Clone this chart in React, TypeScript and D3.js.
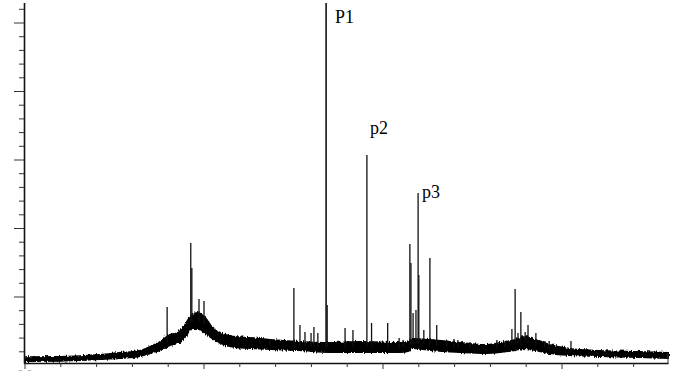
import React from 'react';
import * as d3 from 'd3';

// Baseline band (noise envelope) of the spectrum
const baseX = [0, 98, 209, 265, 321, 349, 377, 405, 427, 447, 466, 483, 503, 522, 545, 587, 628, 684, 768, 852, 936, 1047, 1070, 1081, 1131, 1215, 1285, 1327, 1369, 1397, 1424, 1466, 1522, 1606, 1718, 1796];
const baseHigh = [12.0, 12.4, 15.3, 18.3, 21.2, 27.0, 34.3, 44.5, 47.5, 59.1, 73.7, 76.7, 69.4, 56.2, 47.5, 41.6, 40.2, 37.2, 34.3, 32.9, 34.3, 32.9, 34.3, 38.7, 37.2, 32.9, 29.9, 32.9, 37.2, 41.6, 37.2, 29.9, 24.1, 21.2, 19.7, 18.3];
const baseLow = [6.6, 7.0, 9.5, 11.0, 13.9, 18.3, 22.6, 29.9, 32.9, 41.6, 54.8, 54.8, 47.5, 40.2, 32.9, 27.0, 25.6, 24.1, 22.6, 19.7, 19.7, 19.7, 21.2, 25.6, 22.6, 19.7, 18.3, 19.7, 22.6, 25.6, 22.6, 18.3, 15.3, 13.9, 12.4, 11.0];

// Sharp peaks (position, intensity)
const peakX = [397, 463, 466, 486, 500, 656, 684, 751, 768, 782, 799, 807, 818, 841, 844, 894, 916, 955, 968, 1013, 1045, 1056, 1075, 1078, 1084, 1092, 1098, 1100, 1114, 1131, 1150, 1178, 1198, 1209, 1243, 1318, 1341, 1360, 1369, 1377, 1385, 1397, 1405, 1427, 1452, 1464, 1525];
const peakI = [85.4, 178.9, 142.4, 97.1, 94.2, 38.7, 37.2, 113.2, 59.1, 48.9, 47.5, 56.2, 47.5, 529.3, 88.3, 54.8, 51.8, 307.3, 62.1, 62.1, 40.2, 37.2, 177.4, 149.7, 76.7, 81.0, 251.9, 132.1, 51.8, 157.0, 59.1, 37.2, 38.7, 37.2, 34.3, 37.2, 35.8, 53.3, 111.7, 47.5, 78.1, 48.9, 59.1, 47.5, 35.9, 35.9, 35.9];

const labels = ['P1', 'p2', 'p3'];
const labelPeak = [841, 955, 1098];
const labelDx = [9, 3, 4];
const labelDy = [20, -21, 5];

const xMinorTicks = d3.range(0, 1800, 100);
const yMinorTicks = d3.range(20, 530, 20);

export default function App() {
  const W = 673, H = 371;
  const x = d3.scaleLinear().domain([0, 1796]).range([25, 668]);
  const y = d3.scaleLinear().domain([0, 100]).range([365.5, 297]);
  const hi = d3.scaleLinear().domain(baseX).range(baseHigh);
  const lo = d3.scaleLinear().domain(baseX).range(baseLow);

  const area = d3.area<number>()
    .x((d) => x(baseX[d]))
    .y0((d) => y(baseLow[d]))
    .y1((d) => y(baseHigh[d]))
    .curve(d3.curveMonotoneX);
  const idx = baseX.map((_, i) => i);

  return (
    <svg width={W} height={H} style={{ position: 'absolute', left: 0, top: 0, background: '#fff' }}>
      <defs>
        <filter id="grain" x="-2%" y="-20%" width="104%" height="140%">
          <feTurbulence type="fractalNoise" baseFrequency="0.9 0.15" numOctaves={2} seed={3} result="n" />
          <feDisplacementMap in="SourceGraphic" in2="n" scale={4} xChannelSelector="R" yChannelSelector="G" />
        </filter>
      </defs>
      <rect x={0} y={0} width={W} height={H} fill="#fff" />
      {/* spectrum baseline band */}
      <path d={area(idx) || ''} fill="#000" stroke="#000" strokeWidth={2} filter="url(#grain)" />
      {/* peaks */}
      {peakX.map((px, i) => (
        <line key={i} x1={x(px)} x2={x(px)} y1={y((hi(px) + lo(px)) / 2)} y2={y(peakI[i])}
          stroke="#111" strokeWidth={px === 841 ? 1.6 : 1.3} />
      ))}
      {/* y axis */}
      <line x1={24.5} x2={24.5} y1={3} y2={363.5} stroke="#111" strokeWidth={1.6} />
      {yMinorTicks.map((t) => (
        <line key={t} x1={t % 100 === 0 ? 14 : 19} x2={24} y1={y(t)} y2={y(t)} stroke="#333" strokeWidth={1} />
      ))}
      {/* x axis */}
      <line x1={24} x2={668.5} y1={363.5} y2={363.5} stroke="#111" strokeWidth={1.4} />
      {xMinorTicks.map((t) => (
        <line key={t} x1={x(t)} x2={x(t)} y1={363} y2={t % 500 === 0 ? 369 : 367} stroke="#333" strokeWidth={1} />
      ))}
      <line x1={668} x2={668} y1={353} y2={364} stroke="#333" strokeWidth={1} />
      <text x={x(0)} y={378} textAnchor="middle" fontFamily="Arial, Liberation Sans" fontSize={11} fill="#aaa">0.0</text>
      {/* peak labels */}
      {labels.map((l, i) => (
        <text key={l} x={x(labelPeak[i]) + labelDx[i]}
          y={y(peakI[peakX.indexOf(labelPeak[i])]) + labelDy[i]}
          fontFamily="'Liberation Serif', 'Times New Roman', serif" fontSize={18} fill="#000">{l}</text>
      ))}
    </svg>
  );
}
